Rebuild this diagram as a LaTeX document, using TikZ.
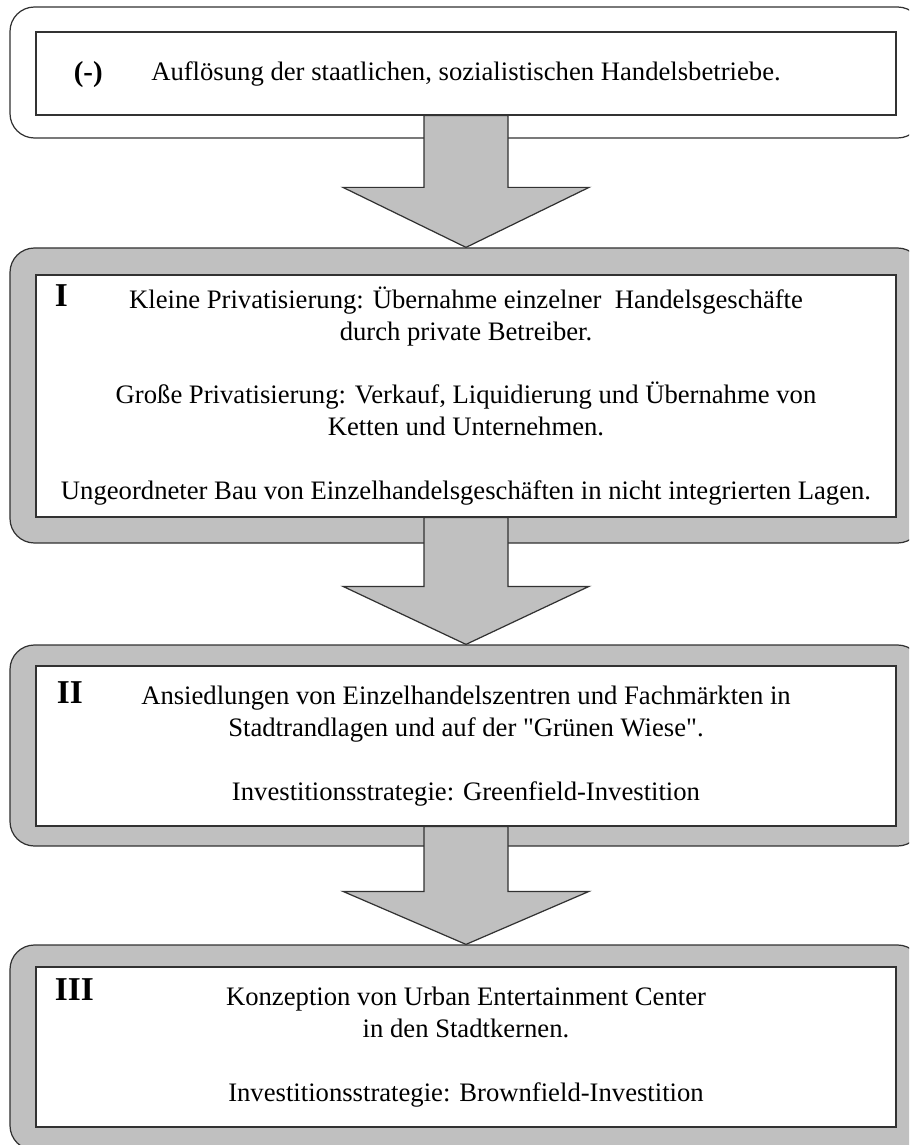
\documentclass[tikz,border=0pt]{standalone}
\usepackage{fontspec}
\setmainfont{Liberation Serif}[Ligatures=TeXOff]
\usepackage{tikz}
\usetikzlibrary{calc}
\definecolor{boxgray}{RGB}{192,192,192}
\definecolor{linegray}{RGB}{50,50,50}
\tikzset{
    outerbox/.style = {rectangle, rounded corners=11pt, draw=linegray, line width=0.55pt, fill=white, inner sep=0pt, minimum width=410.4pt},
    outerboxg/.style = {outerbox, fill=boxgray},
    innerbox/.style = {rectangle, draw=linegray, line width=0.55pt, fill=white, inner sep=0pt, align=center, minimum width=387pt},
    stagelabel/.style = {anchor=north west, inner sep=0pt, font=\fontsize{15}{18}\selectfont\bfseries},
    arrowg/.style = {draw=linegray, line width=0.55pt, fill=boxgray, line join=miter}, % block arrow
}

\begin{document}
\begin{tikzpicture}[x=0.45pt, y=-0.45pt, font=\fontsize{12}{14.3}\selectfont]
  \useasboundingbox (0,0) rectangle (909,1145);
  \clip (0,0) rectangle (909,1145);
  % frames
  \node[outerbox, minimum height=58.95pt] (out0) at (466,72.5) {};
  \node[outerboxg, minimum height=132.75pt] (out1) at (466,395.5) {};
  \node[outerboxg, minimum height=90.45pt] (out2) at (466,745.5) {};
  \node[outerboxg, minimum height=92.25pt] (out3) at (466,1047.5) {};
  % stages
  \node[innerbox, minimum height=37.35pt] (in0) at (466,73.5)
    {Auflösung der staatlichen, sozialistischen Handelsbetriebe.};
  \node[innerbox, minimum height=108.9pt] (in1) at (466,396)
    {Kleine Privatisierung: Übernahme einzelner\ \ Handelsgeschäfte\\
     durch private Betreiber.\\[14.3pt]
     Große Privatisierung: Verkauf, Liquidierung und Übernahme von\\
     Ketten und Unternehmen.\\[14.3pt]
     Ungeordneter Bau von Einzelhandelsgeschäften in nicht integrierten Lagen.};
  \node[innerbox, minimum height=72pt] (in2) at (466,746)
    {Ansiedlungen von Einzelhandelszentren und Fachmärkten in\\
     Stadtrandlagen und auf der "Grünen Wiese".\\[14.3pt]
     Investitionsstrategie: Greenfield-Investition};
  \node[innerbox, minimum height=72pt] (in3) at (466,1047)
    {Konzeption von Urban Entertainment Center\\
     in den Stadtkernen.\\[14.3pt]
     Investitionsstrategie: Brownfield-Investition};
  \node[stagelabel, font=\fontsize{13}{16}\selectfont\bfseries] (lab0) at ($(in0.north west)+(38,30)$) {(-)};
  \node[stagelabel] (lab1) at ($(in1.north west)+(19,10)$) {I};
  \node[stagelabel] (lab2) at ($(in2.north west)+(21,16)$) {II};
  \node[stagelabel] (lab3) at ($(in3.north west)+(19,12)$) {III};
  % arrows
  \draw[arrowg] ($(in0.south)+(-42,0)$) -- ($(out1.north)+(-42,-60)$) -- ($(out1.north)+(-123,-60)$) -- (out1.north)
    -- ($(out1.north)+(123,-60)$) -- ($(out1.north)+(42,-60)$) -- ($(in0.south)+(42,0)$) -- cycle;
  \draw[arrowg] ($(in1.south)+(-42,0)$) -- ($(out2.north)+(-42,-58)$) -- ($(out2.north)+(-123,-58)$) -- (out2.north)
    -- ($(out2.north)+(123,-58)$) -- ($(out2.north)+(42,-58)$) -- ($(in1.south)+(42,0)$) -- cycle;
  \draw[arrowg] ($(in2.south)+(-42,0)$) -- ($(out3.north)+(-42,-53)$) -- ($(out3.north)+(-123,-53)$) -- (out3.north)
    -- ($(out3.north)+(123,-53)$) -- ($(out3.north)+(42,-53)$) -- ($(in2.south)+(42,0)$) -- cycle;
\end{tikzpicture}
\end{document}
